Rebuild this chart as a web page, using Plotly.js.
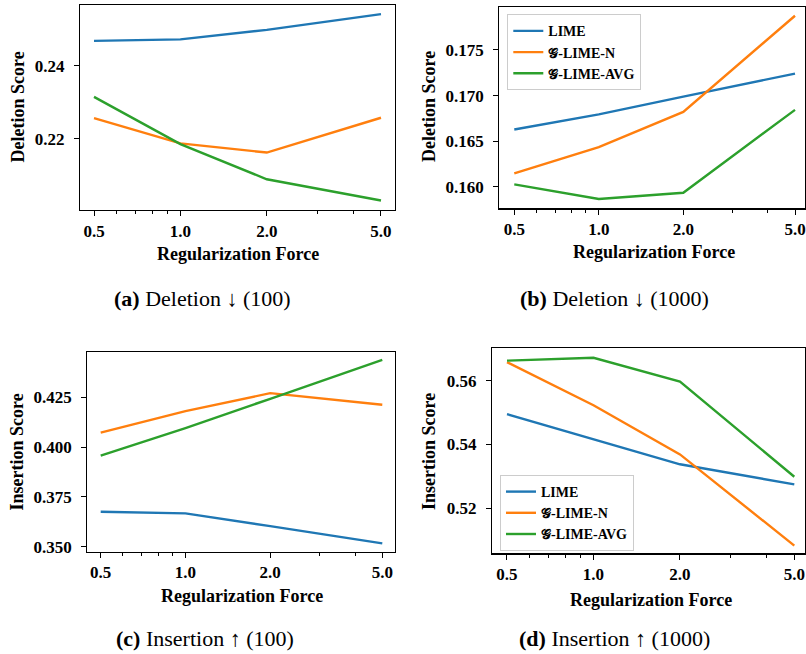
<!DOCTYPE html>
<html>
<head>
<meta charset="utf-8">
<script src="https://cdn.plot.ly/plotly-3.0.1.min.js"></script>
<style>html,body{margin:0;padding:0;background:#fff;overflow:hidden}</style>
</head>
<body>
<div id="chart" style="width:806px;height:654px"></div>
<script>
// ---- data ----
const forces = [0.5, 1.0, 2.0, 5.0];
const forceLabels = ['0.5', '1.0', '2.0', '5.0'];
const seriesNames = ['LIME', '𝒢-LIME-N', '𝒢-LIME-AVG'];

const delLime100 = [0.2468, 0.2472, 0.2498, 0.2541];
const delGN100   = [0.2257, 0.2188, 0.2163, 0.2258];
const delGA100   = [0.2315, 0.2186, 0.2090, 0.2032];

const delLime1000 = [0.16628, 0.16793, 0.16989, 0.17241];
const delGN1000   = [0.16147, 0.16434, 0.16821, 0.17876];
const delGA1000   = [0.16026, 0.15865, 0.15934, 0.16843];

const insLime100 = [0.3675, 0.3667, 0.3603, 0.3517];
const insGN100   = [0.4072, 0.4180, 0.4270, 0.4212];
const insGA100   = [0.3957, 0.4095, 0.4242, 0.4437];

const insLime1000 = [0.5495, 0.5416, 0.5338, 0.5275];
const insGN1000   = [0.5658, 0.5523, 0.5369, 0.5083];
const insGA1000   = [0.5663, 0.5672, 0.5597, 0.5299];

const yTicksA = [0.22, 0.24];
const yTicksB = [0.160, 0.165, 0.170, 0.175];
const yTicksC = [0.350, 0.375, 0.400, 0.425];
const yTicksD = [0.52, 0.54, 0.56];

const captions = ['<b>(a)</b> Deletion ↓ (100)', '<b>(b)</b> Deletion ↓ (1000)',
                  '<b>(c)</b> Insertion ↑ (100)', '<b>(d)</b> Insertion ↑ (1000)'];
const xTitle = 'Regularization Force';
const yTitles = ['Deletion Score', 'Deletion Score', 'Insertion Score', 'Insertion Score'];

// ---- styling ----
const colors = ['#1f77b4', '#ff7f0e', '#2ca02c'];
const W = 806, H = 654;
const FONT = '"Liberation Serif", "Times New Roman", serif';

const panels = [
  {data: [delLime100, delGN100, delGA100], xa: 'x', ya: 'y', legend: null},
  {data: [delLime1000, delGN1000, delGA1000], xa: 'x2', ya: 'y2', legend: 'legend'},
  {data: [insLime100, insGN100, insGA100], xa: 'x3', ya: 'y3', legend: null},
  {data: [insLime1000, insGN1000, insGA1000], xa: 'x4', ya: 'y4', legend: 'legend2'}
];

const traces = [];
panels.forEach(p => {
  p.data.forEach((vals, i) => {
    const t = {
      x: forces, y: vals, type: 'scatter', mode: 'lines',
      name: seriesNames[i], xaxis: p.xa, yaxis: p.ya,
      line: {color: colors[i], width: 2.4},
      showlegend: !!p.legend, legendgroup: 'g' + i
    };
    if (p.legend) t.legend = p.legend;
    traces.push(t);
  });
});

// pixel boxes: [left, right, top, bottom]
const boxes = [
  [80, 395, 5, 210],
  [499.3, 805, 6.7, 208.3],
  [87.3, 395, 351.7, 551.7],
  [492, 805, 348.3, 553.3]
];
const xRanges = [[-0.3498, 0.7478], [-0.3544, 0.7346], [-0.3486, 0.7441], [-0.3532, 0.7362]];
const yRanges = [[0.2006, 0.2566], [0.15763, 0.17975], [0.3475, 0.4478], [0.50589, 0.57016]];
const yTicks = [yTicksA, yTicksB, yTicksC, yTicksD];
const yFmt = ['.2f', '.3f', '.3f', '.2f'];

const tickFont = {family: FONT, size: 17, color: '#000', weight: 'bold'};
const legendFont = {family: FONT, size: 14, color: '#000', weight: 'bold'};

const layout = {
  width: W, height: H,
  margin: {l: 0, r: 0, t: 0, b: 0},
  paper_bgcolor: '#fff', plot_bgcolor: '#fff',
  showlegend: true,
  annotations: [],
  legend: {
    x: 507.3 / W, y: 1 - 14.3 / H, xanchor: 'left', yanchor: 'top',
    bgcolor: 'rgba(255,255,255,0.85)', bordercolor: '#cccccc', borderwidth: 1,
    font: legendFont, tracegroupgap: 0, traceorder: 'grouped'
  },
  legend2: {
    x: 500 / W, y: 1 - 475 / H, xanchor: 'left', yanchor: 'top',
    bgcolor: 'rgba(255,255,255,0.85)', bordercolor: '#cccccc', borderwidth: 1,
    font: legendFont, tracegroupgap: 0, traceorder: 'grouped'
  }
};

boxes.forEach((b, k) => {
  const sfx = k === 0 ? '' : String(k + 1);
  layout['xaxis' + sfx] = {
    type: 'log', domain: [b[0] / W, b[1] / W], range: xRanges[k],
    anchor: 'y' + sfx,
    tickmode: 'array', tickvals: forces, ticktext: forceLabels,
    ticks: 'outside', ticklen: 5, tickwidth: 1, tickcolor: '#000',
    minor: {tickmode: 'array', tickvals: [0.6, 0.7, 0.8, 0.9, 3, 4], ticks: 'outside', ticklen: 3, tickwidth: 1, tickcolor: '#000'},
    showline: true, mirror: true, linecolor: '#000', linewidth: 1.2,
    showgrid: false, zeroline: false, tickfont: tickFont, fixedrange: true
  };
  layout['yaxis' + sfx] = {
    domain: [1 - b[3] / H, 1 - b[2] / H], range: yRanges[k],
    anchor: 'x' + sfx,
    tickmode: 'array', tickvals: yTicks[k], tickformat: yFmt[k],
    ticks: 'outside', ticklen: 5, tickwidth: 1, tickcolor: '#000',
    ticklabelstandoff: 6,
    showline: true, mirror: true, linecolor: '#000', linewidth: 1.2,
    showgrid: false, zeroline: false, tickfont: tickFont, fixedrange: true
  };
});

// axis titles & captions as annotations
const xTitlePos = [[238.4, 254], [654, 252], [241.7, 596], [651, 600]];
const yTitlePos = [[17, 107.5], [429, 107], [16.7, 451.7], [429, 452]];
const capPos = [[202.5, 298], [614.5, 298], [205, 638], [614.5, 638]];
for (let k = 0; k < 4; k++) {
  layout.annotations.push({
    text: '<b>' + xTitle + '</b>', x: xTitlePos[k][0] / W, y: 1 - xTitlePos[k][1] / H,
    xref: 'paper', yref: 'paper', showarrow: false, xanchor: 'center', yanchor: 'middle',
    font: {family: FONT, size: 18, color: '#000'}
  });
  layout.annotations.push({
    text: '<b>' + yTitles[k] + '</b>', x: yTitlePos[k][0] / W, y: 1 - yTitlePos[k][1] / H,
    xref: 'paper', yref: 'paper', showarrow: false, xanchor: 'center', yanchor: 'middle',
    textangle: -90, font: {family: FONT, size: 18, color: '#000'}
  });
  layout.annotations.push({
    text: captions[k], x: capPos[k][0] / W, y: 1 - capPos[k][1] / H,
    xref: 'paper', yref: 'paper', showarrow: false, xanchor: 'center', yanchor: 'middle',
    font: {family: FONT, size: 22, color: '#000'}
  });
}

Plotly.newPlot('chart', traces, layout, {staticPlot: true, displayModeBar: false});
</script>
</body>
</html>
